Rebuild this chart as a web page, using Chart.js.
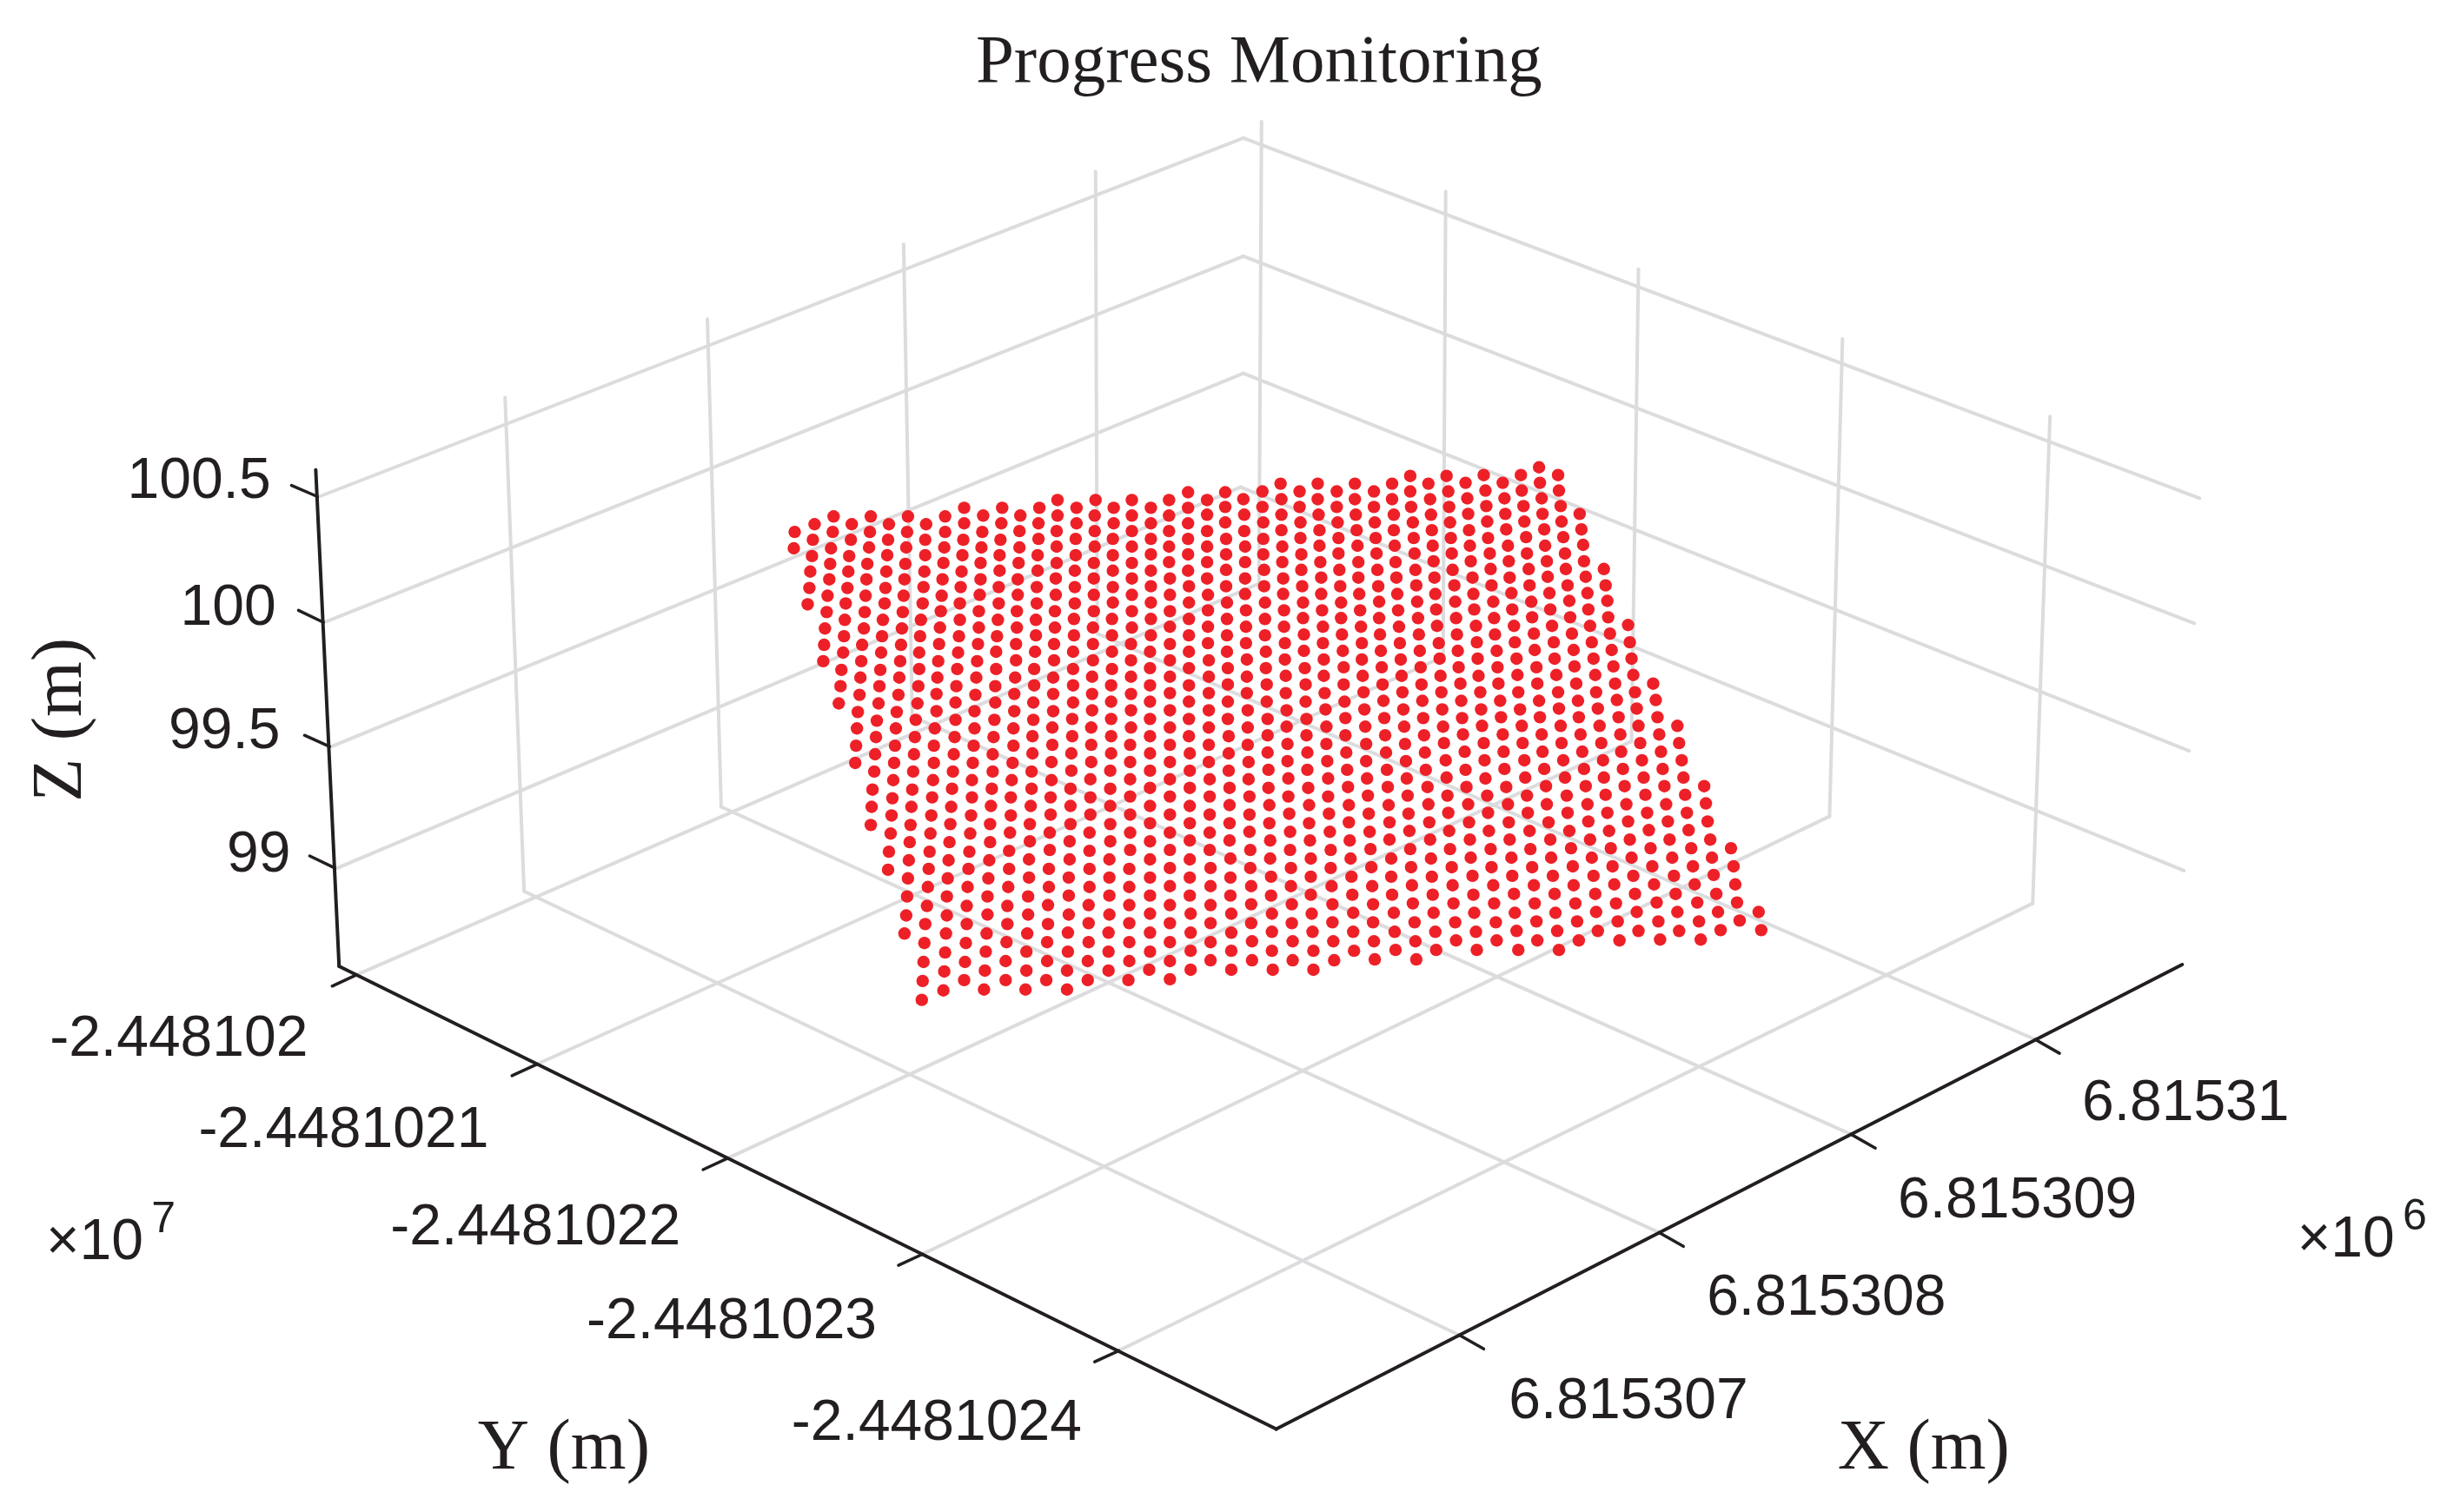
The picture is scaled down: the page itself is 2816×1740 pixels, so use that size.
<!DOCTYPE html>
<html lang="en">
<head>
    <meta charset="UTF-8">
    <title>Progress Monitoring</title>
    <script src="https://cdn.jsdelivr.net/npm/chart.js@4.4.0/dist/chart.umd.min.js"></script>
    <style>
        html, body { margin: 0; padding: 0; background: #fff; }
        #plotWrap { width: 2816px; height: 1740px; }
    </style>
</head>
<body>
<div id="plotWrap"><canvas id="plot" width="2816" height="1740"></canvas></div>
<script>
// the 3D view is a flat projection, so everything is read as x,y on the view plane
const titleText = 'Progress Monitoring';
const xTickLabels = ['6.81531', '6.815309', '6.815308', '6.815307'];
const yTickLabels = ['-2.448102', '-2.4481021', '-2.4481022', '-2.4481023', '-2.4481024'];
const zTickLabels = ['100.5', '100', '99.5', '99'];
const xAxisLabel = 'X (m)';
const yAxisLabel = 'Y (m)';
const zAxisLabel = 'Z (m)';

// gridlines, each one x1,y1,x2,y2
const leftWallLines = [[362,569,1431,153],[370,714,1431,290],[376,859,1431,426],[383,1000,1428,558]];
const rightWallLines = [[1431,153,2537,571],[1431,290,2531,716],[1431,426,2525,864],[1428,558,2519,1003]];
const xWallVerticals = [[577,454,599,1027],[811,363,827,929],[1038,276,1048,824],[1260,192,1262,728]];
const yWallVerticals = [[1452,134,1449,670],[1665,215,1662,755],[1888,305,1880,853],[2124,386,2109,940],[2364,476,2344,1041]];
const floorXLines = [[1681,1542,599,1027],[1912,1423,827,929],[2134,1309,1048,824],[2347,1199,1262,728]];
const floorYLines = [[405,1124,1449,670],[613,1228,1662,755],[834,1337,1880,853],[1060,1448,2109,940],[1287,1560,2344,1041]];

// box edges and tick marks
const axisEdges = [[358,538,385,1114],[385,1114,1469,1651],[1469,1651,2517,1112]];
const zTickMarks = [[360,569,330,556],[367,715,338,701],[374,859,345,846],[380,1000,351,986]];
const yTickMarks = [[405,1124,377,1137],[613,1228,585,1241],[834,1337,806,1350],[1060,1448,1032,1461],[1287,1560,1259,1573]];
const xTickMarks = [[2347,1199,2375,1215],[2134,1309,2162,1325],[1912,1423,1940,1439],[1681,1542,1709,1558]];

// surveyed points, one list per column of the grid: x,y,x,y...
const surveyColumns = [
[912,610,911,629],
[935,601,933,619,932,638,930,656,929,675,927,694],
[957,592,956,610,954,629,953,647,952,665,950,684,949,703,947,722,946,741,945,760],
[978,601,977,619,975,638,974,656,973,675,971,693,970,712,969,731,968,750,966,770,965,789,963,809],
[1000,592,999,610,998,628,996,647,995,665,994,684,993,703,992,722,990,741,989,760,988,779,987,799,985,819,984,838,983,858,982,878],
[1021,601,1020,619,1019,637,1018,656,1017,675,1016,693,1014,712,1013,731,1012,750,1011,770,1010,789,1009,809,1007,829,1006,848,1005,868,1004,888,1002,909,1001,929,1000,950],
[1043,592,1042,610,1041,628,1040,647,1039,665,1038,684,1037,703,1036,722,1035,741,1034,760,1033,779,1032,799,1030,819,1029,838,1028,858,1027,878,1026,898,1025,919,1024,939,1023,960,1021,981,1020,1002],
[1064,601,1063,619,1063,637,1062,656,1061,674,1060,693,1058,712,1057,731,1056,750,1056,769,1055,789,1054,809,1052,828,1051,848,1050,868,1049,888,1048,909,1047,929,1046,950,1045,970,1044,991,1043,1012,1042,1033,1041,1055,1039,1076],
[1086,592,1086,610,1085,628,1084,646,1083,665,1082,684,1081,702,1080,721,1079,740,1078,760,1077,779,1076,798,1076,818,1074,838,1073,858,1073,878,1072,898,1071,918,1070,939,1069,960,1068,981,1067,1001,1066,1022,1065,1044,1063,1065,1062,1087,1061,1109,1060,1131,1059,1153],
[1108,582,1108,600,1107,619,1106,637,1105,656,1104,674,1103,693,1103,712,1102,731,1101,750,1100,769,1099,789,1098,808,1098,828,1097,848,1096,868,1095,888,1094,908,1093,929,1092,949,1091,970,1090,991,1089,1012,1088,1033,1088,1055,1087,1076,1086,1098,1085,1120,1084,1142],
[1130,591,1129,610,1128,628,1127,646,1127,665,1126,683,1125,702,1125,721,1124,740,1123,760,1122,779,1121,799,1120,818,1120,838,1119,858,1118,878,1117,898,1117,918,1116,939,1115,960,1114,981,1113,1001,1112,1022,1111,1044,1111,1065,1110,1087,1109,1109,1108,1130],
[1152,582,1151,600,1150,619,1149,637,1149,655,1148,674,1148,693,1147,712,1146,731,1145,749,1145,769,1144,789,1144,808,1143,828,1142,848,1141,868,1141,888,1140,908,1139,928,1138,949,1138,970,1137,991,1136,1012,1135,1033,1135,1054,1134,1076,1133,1097,1132,1119,1131,1141],
[1173,591,1172,609,1172,628,1171,646,1170,665,1170,683,1169,702,1169,721,1168,740,1168,759,1167,779,1166,798,1166,818,1165,838,1165,858,1164,878,1163,898,1162,918,1162,939,1161,959,1160,980,1160,1001,1159,1022,1158,1044,1158,1065,1157,1086,1156,1108,1156,1130],
[1195,582,1194,600,1194,618,1193,637,1193,655,1192,674,1192,693,1191,712,1191,730,1190,749,1189,769,1189,788,1188,808,1188,828,1187,847,1187,867,1186,888,1186,908,1185,928,1184,949,1184,969,1183,990,1183,1011,1182,1033,1182,1054,1181,1076,1180,1097,1180,1119,1179,1141],
[1216,573,1216,591,1215,609,1215,627,1215,646,1214,664,1214,683,1213,702,1213,721,1212,740,1212,759,1211,779,1211,798,1211,818,1210,837,1210,857,1209,877,1209,898,1208,918,1208,938,1207,959,1207,979,1206,1001,1206,1022,1205,1043,1205,1065,1204,1086,1204,1108,1203,1130],
[1238,582,1238,600,1237,618,1237,637,1236,655,1236,674,1236,693,1235,711,1235,730,1234,749,1234,769,1234,788,1234,808,1233,827,1233,847,1232,867,1232,887,1231,908,1231,928,1231,949,1230,969,1230,990,1229,1011,1229,1032,1229,1054,1228,1075,1228,1097,1227,1119,1227,1141],
[1260,573,1259,591,1259,609,1259,627,1258,646,1258,664,1258,683,1258,702,1257,721,1257,740,1257,759,1256,778,1256,798,1256,817,1255,837,1255,857,1255,877,1254,897,1254,918,1254,938,1253,959,1253,980,1253,1001,1253,1022,1252,1043,1252,1064,1252,1086,1251,1108,1251,1130],
[1281,582,1281,600,1280,618,1280,637,1280,655,1280,674,1280,692,1279,711,1279,730,1279,749,1279,769,1278,788,1278,807,1278,827,1278,847,1278,867,1277,887,1277,908,1277,928,1277,949,1277,969,1276,990,1276,1011,1276,1032,1276,1054,1275,1075,1275,1097,1275,1119],
[1302,573,1302,591,1302,609,1302,627,1302,646,1302,664,1302,683,1302,702,1302,721,1301,740,1301,759,1301,778,1301,798,1301,817,1301,837,1300,857,1300,877,1300,897,1300,917,1300,938,1300,959,1300,979,1299,1001,1299,1022,1299,1043,1299,1064,1299,1086,1299,1108,1298,1130],
[1324,582,1324,600,1324,618,1324,636,1324,655,1324,673,1324,692,1324,711,1324,730,1323,749,1323,768,1323,788,1323,807,1323,827,1323,847,1323,867,1323,887,1323,907,1323,928,1323,948,1323,969,1323,990,1323,1011,1323,1032,1323,1053,1323,1075,1323,1097,1322,1118],
[1345,573,1345,591,1345,609,1345,627,1345,645,1346,664,1346,683,1346,702,1346,720,1346,740,1346,759,1346,778,1346,797,1346,817,1346,837,1346,857,1346,877,1346,897,1346,917,1346,938,1346,959,1346,979,1346,1000,1346,1021,1346,1043,1346,1064,1346,1086,1346,1108,1346,1129],
[1367,564,1367,582,1367,600,1367,618,1367,636,1367,655,1368,673,1368,692,1368,711,1368,730,1368,749,1368,768,1368,788,1368,807,1368,827,1368,847,1369,867,1369,887,1369,907,1369,928,1369,948,1369,968,1369,990,1369,1011,1369,1032,1370,1053,1370,1075,1370,1096,1370,1118],
[1389,573,1389,590,1389,609,1389,627,1389,645,1389,664,1390,683,1390,701,1390,720,1390,739,1391,759,1391,778,1391,797,1391,817,1391,837,1391,857,1391,877,1392,897,1392,917,1392,938,1392,959,1392,979,1393,1000,1393,1021,1393,1043,1393,1064,1393,1086,1393,1107],
[1410,564,1410,581,1410,599,1411,618,1411,636,1411,654,1411,673,1412,692,1412,711,1412,730,1412,749,1413,768,1413,787,1413,807,1413,827,1414,847,1414,867,1414,887,1415,907,1415,927,1415,948,1415,968,1416,989,1416,1011,1416,1032,1417,1053,1417,1075,1417,1096,1417,1118],
[1431,572,1432,590,1432,609,1433,627,1433,645,1433,664,1433,682,1434,701,1434,720,1434,739,1435,758,1435,778,1435,797,1436,817,1436,837,1436,857,1437,877,1437,897,1438,917,1438,938,1438,958,1439,979,1439,1000,1440,1021,1440,1042,1440,1064,1441,1085,1441,1107],
[1453,563,1453,581,1454,599,1454,618,1454,636,1455,654,1455,673,1456,692,1456,711,1456,730,1457,749,1457,768,1458,787,1458,807,1459,827,1459,846,1459,866,1460,886,1460,907,1461,927,1461,948,1462,968,1462,989,1463,1010,1463,1032,1464,1053,1464,1074,1464,1096,1465,1118],
[1474,554,1475,572,1475,590,1475,608,1476,627,1476,645,1477,664,1477,682,1478,701,1478,720,1479,739,1479,758,1480,777,1480,797,1481,817,1481,836,1482,856,1482,876,1483,896,1483,917,1484,937,1485,958,1485,979,1486,1000,1486,1021,1487,1042,1487,1064,1488,1085,1488,1107],
[1496,563,1496,581,1497,599,1497,617,1498,636,1498,654,1499,673,1500,692,1500,710,1501,729,1501,748,1502,768,1503,787,1503,807,1504,827,1504,846,1505,866,1505,886,1506,907,1507,927,1507,948,1508,968,1509,989,1509,1010,1509,1031,1510,1053,1511,1074,1512,1096,1512,1118],
[1517,554,1517,572,1518,590,1519,608,1519,626,1520,645,1521,663,1521,682,1522,701,1523,720,1523,739,1524,758,1524,777,1525,797,1526,816,1527,836,1527,856,1528,876,1529,896,1529,917,1530,937,1531,958,1532,979,1532,1000,1533,1021,1534,1042,1534,1063,1535,1085,1536,1107],
[1539,563,1539,581,1540,599,1541,617,1541,635,1542,654,1543,673,1544,692,1544,710,1545,729,1546,748,1547,767,1547,787,1548,807,1549,826,1549,846,1550,866,1551,886,1552,906,1553,927,1553,947,1554,968,1555,989,1556,1010,1557,1031,1558,1052,1558,1074,1559,1096],
[1560,554,1560,572,1561,590,1562,608,1563,626,1564,645,1564,663,1565,682,1566,701,1567,720,1568,739,1568,758,1569,777,1570,796,1571,816,1572,836,1573,856,1573,876,1574,896,1575,916,1576,937,1577,958,1578,978,1579,999,1580,1021,1581,1042,1581,1063,1582,1085,1583,1106],
[1582,563,1582,581,1583,599,1584,617,1585,635,1586,654,1587,673,1588,691,1588,710,1589,729,1590,748,1591,767,1592,787,1593,806,1594,826,1595,846,1596,866,1597,886,1598,906,1599,927,1600,947,1600,967,1602,989,1602,1010,1603,1031,1605,1052,1606,1074,1607,1095],
[1603,554,1603,572,1605,590,1605,608,1606,626,1607,645,1608,663,1609,682,1610,701,1611,720,1612,739,1613,758,1614,777,1615,796,1616,816,1617,836,1618,856,1619,876,1620,896,1621,916,1622,937,1623,957,1624,978,1625,999,1626,1020,1627,1041,1629,1063,1630,1085,1631,1106],
[1624,545,1624,563,1625,581,1627,599,1628,617,1629,635,1630,654,1631,672,1632,691,1633,710,1634,729,1635,748,1636,767,1637,787,1638,806,1639,826,1640,846,1641,866,1642,886,1644,906,1645,926,1646,947,1647,967,1648,989,1649,1010,1650,1031,1651,1052,1653,1074,1654,1095],
[1645,554,1647,572,1648,590,1649,608,1650,626,1651,644,1652,663,1653,682,1654,700,1655,719,1657,739,1658,757,1659,777,1660,796,1661,816,1662,836,1663,855,1665,875,1666,895,1667,916,1668,936,1669,957,1670,978,1672,999,1673,1020,1674,1041,1676,1063,1677,1084],
[1666,545,1668,563,1669,581,1670,599,1671,617,1672,635,1673,654,1675,672,1676,691,1677,710,1678,729,1679,748,1680,767,1682,786,1683,806,1684,826,1685,845,1687,865,1688,886,1689,906,1691,926,1692,947,1693,967,1694,988,1696,1009,1697,1031,1698,1052,1700,1074,1701,1095],
[1688,553,1690,571,1691,589,1692,608,1693,626,1694,644,1696,663,1697,682,1698,700,1700,719,1701,738,1702,757,1703,777,1705,796,1706,816,1707,835,1709,855,1710,875,1711,896,1713,916,1714,936,1715,957,1717,978,1718,999,1720,1020,1721,1041,1723,1063,1724,1084],
[1709,544,1711,562,1712,580,1713,598,1714,617,1716,635,1717,653,1718,672,1720,691,1721,710,1722,729,1724,748,1725,767,1726,786,1728,806,1729,825,1731,845,1732,865,1733,885,1735,906,1737,926,1738,947,1739,967,1741,988,1742,1009,1744,1030,1745,1052,1747,1073,1749,1095],
[1731,553,1733,571,1734,589,1735,607,1737,626,1738,644,1739,663,1741,681,1742,700,1744,719,1745,738,1747,757,1748,776,1749,796,1751,816,1753,835,1754,855,1756,875,1757,895,1759,916,1760,936,1762,957,1763,978,1765,999,1767,1020,1768,1041,1770,1062,1771,1084],
[1752,544,1753,562,1755,580,1756,598,1758,616,1759,635,1761,653,1762,672,1764,691,1765,709,1767,728,1768,747,1770,767,1771,786,1773,806,1774,825,1776,845,1777,865,1779,885,1781,905,1782,926,1784,947,1786,967,1787,988,1789,1009,1791,1030,1792,1052,1794,1073,1796,1095],
[1773,535,1774,553,1776,571,1777,589,1779,607,1780,626,1782,644,1783,662,1785,681,1786,700,1788,719,1790,738,1791,757,1793,776,1795,796,1796,815,1798,835,1799,855,1801,875,1803,895,1805,916,1806,936,1808,957,1810,977,1812,998,1813,1020,1815,1041,1817,1062,1819,1084],
[1795,544,1796,562,1798,580,1799,598,1801,616,1803,635,1804,653,1806,672,1808,690,1809,709,1811,728,1813,747,1814,766,1816,786,1818,806,1819,825,1821,845,1823,865,1825,885,1827,905,1829,926,1830,946,1832,967,1834,988,1836,1009,1838,1030,1839,1051,1841,1073],
[1820,589,1822,607,1824,625,1825,644,1827,662,1829,681,1830,700,1832,719,1834,738,1836,757,1838,776,1839,796,1841,815,1843,835,1845,855,1847,875,1848,895,1850,915,1852,936,1854,957,1856,977,1858,998,1860,1019,1862,1041,1864,1062,1866,1084],
[1848,653,1850,672,1852,690,1853,709,1855,728,1857,747,1859,766,1861,786,1863,805,1865,825,1867,845,1868,865,1870,885,1872,905,1874,926,1876,946,1878,967,1880,988,1882,1009,1884,1030,1886,1051,1888,1073],
[1876,718,1878,738,1880,757,1882,776,1884,796,1886,815,1888,835,1890,855,1892,875,1894,895,1896,915,1898,936,1900,956,1902,977,1904,998,1906,1019,1909,1040,1911,1062,1913,1083],
[1905,786,1908,805,1910,825,1912,845,1914,865,1916,885,1918,905,1920,926,1922,946,1924,967,1927,988,1929,1009,1931,1030,1933,1051,1935,1073],
[1933,835,1935,855,1938,875,1940,895,1942,915,1944,936,1946,956,1949,977,1951,998,1953,1019,1956,1040,1958,1062,1960,1083],
[1964,905,1966,925,1968,946,1971,967,1973,988,1975,1008,1978,1030,1980,1051,1983,1072],
[1995,977,1998,998,2000,1019,2002,1040,2005,1061],
[2027,1051,2030,1072]
];

const gridColor = '#dcdcde';
const inkColor = '#231f20';
const dotColor = '#ee2027';
const serifFont = '"Liberation Serif", serif';
const sansFont = '"Liberation Sans", sans-serif';

function segmentDataset(seg, color, width, order) {
    return {
        type: 'line',
        data: [{x: seg[0], y: seg[1]}, {x: seg[2], y: seg[3]}],
        borderColor: color,
        borderWidth: width,
        borderCapStyle: 'round',
        pointRadius: 0,
        fill: false,
        tension: 0,
        order: order
    };
}

const datasets = [];
leftWallLines.concat(rightWallLines, xWallVerticals, yWallVerticals, floorXLines, floorYLines)
    .forEach(function (seg) { datasets.push(segmentDataset(seg, gridColor, 4, 3)); });
axisEdges.forEach(function (seg) { datasets.push(segmentDataset(seg, inkColor, 4, 1)); });
zTickMarks.concat(yTickMarks, xTickMarks)
    .forEach(function (seg) { datasets.push(segmentDataset(seg, inkColor, 3.5, 1)); });

const surveyPoints = [];
surveyColumns.forEach(function (col) {
    for (let i = 0; i < col.length; i += 2) {
        surveyPoints.push({x: col[i], y: col[i + 1]});
    }
});
datasets.push({
    type: 'scatter',
    data: surveyPoints,
    backgroundColor: dotColor,
    borderWidth: 0,
    pointRadius: 7.2,
    order: 2
});

// all text goes on last, anchored to the same scales as the marks
const textPlugin = {
    id: 'plotText',
    afterDraw: function (chart) {
        const ctx = chart.ctx;
        const sx = chart.scales.x;
        const sy = chart.scales.y;
        function put(text, x, y, font, align, baseline) {
            ctx.font = font;
            ctx.textAlign = align;
            ctx.textBaseline = baseline || 'alphabetic';
            ctx.fillText(text, sx.getPixelForValue(x), sy.getPixelForValue(y));
        }
        ctx.save();
        ctx.fillStyle = inkColor;
        const tickFont = '66px ' + sansFont;
        const labelFont = '82px ' + serifFont;
        put(titleText, 1449, 88, '79px ' + serifFont, 'center');

        const zRight = [306, 312, 317, 329];
        const zY = [571, 718, 861, 1004];
        zTickLabels.forEach(function (t, i) { put(t, zRight[i], zY[i], tickFont, 'right'); });

        const yRight = [349, 558, 780, 1007, 1244];
        const yY = [1218, 1324, 1437, 1546, 1664];
        yTickLabels.forEach(function (t, i) { put(t, yRight[i], yY[i], tickFont, 'right'); });

        const xLeft = [2401, 2188, 1967, 1738];
        const xY = [1293, 1405, 1518, 1638];
        xTickLabels.forEach(function (t, i) { put(t, xLeft[i], xY[i], tickFont, 'left'); });

        put('\u00d710', 2650, 1451, tickFont, 'left');
        put('6', 2772, 1420, '50px ' + sansFont, 'left');
        put('\u00d710', 46, 1454, tickFont, 'left');
        put('7', 168, 1423, '50px ' + sansFont, 'left');

        put(xAxisLabel, 2218, 1697, labelFont, 'center');
        put(yAxisLabel, 645, 1697, labelFont, 'center');

        ctx.save();
        ctx.translate(sx.getPixelForValue(86), sy.getPixelForValue(828));
        ctx.rotate(-Math.PI / 2);
        ctx.font = labelFont;
        ctx.textAlign = 'center';
        ctx.textBaseline = 'alphabetic';
        ctx.fillText(zAxisLabel, 0, 0);
        ctx.restore();
        ctx.restore();
    }
};

new Chart(document.getElementById('plot').getContext('2d'), {
    type: 'scatter',
    data: { datasets: datasets },
    plugins: [textPlugin],
    options: {
        responsive: false,
        animation: false,
        events: [],
        layout: { padding: 0 },
        plugins: { legend: { display: false }, tooltip: { enabled: false }, title: { display: false } },
        scales: {
            x: { type: 'linear', min: 0, max: 2816, display: false },
            y: { type: 'linear', min: 0, max: 1740, reverse: true, display: false }
        }
    }
});
</script>
</body>
</html>
